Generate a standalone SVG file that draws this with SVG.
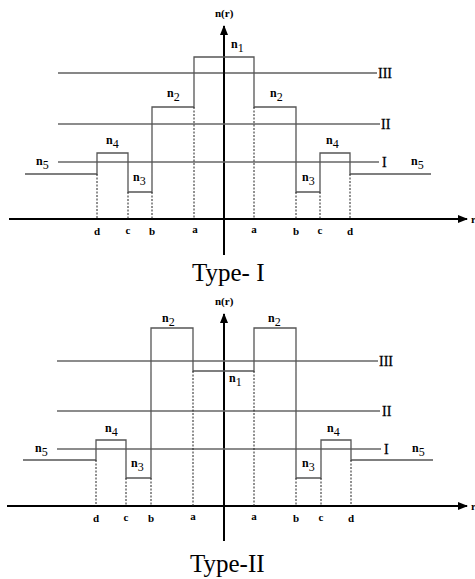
<svg xmlns="http://www.w3.org/2000/svg" width="475" height="579" viewBox="0 0 475 579">
<defs>
<style>
.axis{stroke:#000;stroke-width:2;fill:none}
.step{stroke:#555;stroke-width:1.3;fill:none}
.ref{stroke:#666;stroke-width:1.3;fill:none}
.refd{stroke:#111;stroke-width:1.2;fill:none}
.dash{stroke:#222;stroke-width:1;stroke-dasharray:2,1.5;fill:none}
.lbl{font-family:"Liberation Serif",serif;font-weight:bold;font-size:12px;fill:#000}
.sub{font-family:"Liberation Serif",serif;font-weight:normal;font-size:12px;fill:#000}
.ax{font-family:"Liberation Serif",serif;font-weight:bold;font-size:11px;fill:#000}
.rom{font-family:"Liberation Serif",serif;font-size:14px;fill:#000;stroke:#000;stroke-width:0.3}
.ttl{font-family:"Liberation Serif",serif;font-size:25px;fill:#000}
</style>
<marker id="ah" viewBox="0 0 10 10" refX="9" refY="5" markerWidth="5" markerHeight="5" orient="auto" markerUnits="strokeWidth">
<path d="M0,1 L10,5 L0,9 z" fill="#000"/>
</marker>
</defs>
<rect width="475" height="579" fill="#fff"/>

<!-- Top panel: Type I -->
<g id="typeI">
<g id="axes1">
<line class="axis" x1="9" y1="219" x2="467" y2="219" marker-end="url(#ah)"/>
<line class="axis" x1="224" y1="255" x2="224" y2="26" marker-end="url(#ah)"/>
<text class="ax" x="215" y="17">n(r)</text>
<text class="ax" x="471" y="223">r</text>
</g>
<g id="refs1">
<line class="refd" x1="58" y1="73" x2="377" y2="73"/>
<line class="ref" x1="58" y1="124" x2="380" y2="124"/>
<line class="ref" x1="58" y1="162" x2="379" y2="162"/>
<text class="rom" x="378" y="78">III</text>
<text class="rom" x="381" y="129">II</text>
<text class="rom" x="382" y="167">I</text>
</g>
<g id="profile1">
<polyline class="step" points="25,174 97,174 97,153 128,153 128,192 152,192 152,107 194,107 194,57 254,57 254,107 296,107 296,192 320,192 320,153 350,153 350,174 431,174"/>
<line class="dash" x1="97" y1="174" x2="97" y2="219"/>
<line class="dash" x1="128" y1="192" x2="128" y2="219"/>
<line class="dash" x1="152" y1="192" x2="152" y2="219"/>
<line class="dash" x1="194" y1="107" x2="194" y2="219"/>
<line class="dash" x1="254" y1="107" x2="254" y2="219"/>
<line class="dash" x1="296" y1="192" x2="296" y2="219"/>
<line class="dash" x1="320" y1="192" x2="320" y2="219"/>
<line class="dash" x1="350" y1="174" x2="350" y2="219"/>
</g>
<g id="labels1">
<text class="lbl" x="36" y="165">n<tspan class="sub" dy="4">5</tspan></text>
<text class="lbl" x="106" y="144">n<tspan class="sub" dy="4">4</tspan></text>
<text class="lbl" x="133" y="181">n<tspan class="sub" dy="4">3</tspan></text>
<text class="lbl" x="167" y="97">n<tspan class="sub" dy="4">2</tspan></text>
<text class="lbl" x="231" y="48">n<tspan class="sub" dy="4">1</tspan></text>
<text class="lbl" x="270" y="97">n<tspan class="sub" dy="4">2</tspan></text>
<text class="lbl" x="302" y="181">n<tspan class="sub" dy="4">3</tspan></text>
<text class="lbl" x="326" y="144">n<tspan class="sub" dy="4">4</tspan></text>
<text class="lbl" x="411" y="165">n<tspan class="sub" dy="4">5</tspan></text>
<text class="ax" x="97" y="235" text-anchor="middle">d</text>
<text class="ax" x="128" y="234" text-anchor="middle" font-size="10">c</text>
<text class="ax" x="152" y="235" text-anchor="middle">b</text>
<text class="ax" x="195" y="233" text-anchor="middle" font-size="10">a</text>
<text class="ax" x="254" y="233" text-anchor="middle" font-size="10">a</text>
<text class="ax" x="296" y="235" text-anchor="middle">b</text>
<text class="ax" x="320" y="234" text-anchor="middle" font-size="10">c</text>
<text class="ax" x="350" y="235" text-anchor="middle">d</text>
<text class="ttl" x="192" y="281">Type- I</text>
</g>
</g>

<!-- Bottom panel: Type II -->
<g id="typeII">
<g id="axes2">
<line class="axis" x1="7" y1="506" x2="467" y2="506" marker-end="url(#ah)"/>
<line class="axis" x1="224" y1="541" x2="224" y2="314" marker-end="url(#ah)"/>
<text class="ax" x="215" y="305">n(r)</text>
<text class="ax" x="471" y="510">r</text>
</g>
<g id="refs2">
<line class="ref" x1="57" y1="361" x2="378" y2="361"/>
<line class="ref" x1="57" y1="411" x2="380" y2="411"/>
<line class="ref" x1="57" y1="449" x2="381" y2="449"/>
<text class="rom" x="379" y="366">III</text>
<text class="rom" x="382" y="416">II</text>
<text class="rom" x="384" y="454">I</text>
</g>
<g id="profile2">
<polyline class="step" points="23,460 96,460 96,440 126,440 126,478 151,478 151,328 193,328 193,371 254,371 254,328 296,328 296,478 321,478 321,440 351,440 351,460 433,460"/>
<line class="dash" x1="96" y1="460" x2="96" y2="506"/>
<line class="dash" x1="126" y1="478" x2="126" y2="506"/>
<line class="dash" x1="151" y1="478" x2="151" y2="506"/>
<line class="dash" x1="193" y1="371" x2="193" y2="506"/>
<line class="dash" x1="254" y1="371" x2="254" y2="506"/>
<line class="dash" x1="296" y1="478" x2="296" y2="506"/>
<line class="dash" x1="321" y1="478" x2="321" y2="506"/>
<line class="dash" x1="351" y1="460" x2="351" y2="506"/>
</g>
<g id="labels2">
<text class="lbl" x="35" y="452">n<tspan class="sub" dy="4">5</tspan></text>
<text class="lbl" x="105" y="432">n<tspan class="sub" dy="4">4</tspan></text>
<text class="lbl" x="131" y="467">n<tspan class="sub" dy="4">3</tspan></text>
<text class="lbl" x="162" y="322">n<tspan class="sub" dy="4">2</tspan></text>
<text class="lbl" x="229" y="382">n<tspan class="sub" dy="4">1</tspan></text>
<text class="lbl" x="268" y="322">n<tspan class="sub" dy="4">2</tspan></text>
<text class="lbl" x="302" y="467">n<tspan class="sub" dy="4">3</tspan></text>
<text class="lbl" x="327" y="432">n<tspan class="sub" dy="4">4</tspan></text>
<text class="lbl" x="412" y="452">n<tspan class="sub" dy="4">5</tspan></text>
<text class="ax" x="96" y="522" text-anchor="middle">d</text>
<text class="ax" x="126" y="521" text-anchor="middle" font-size="10">c</text>
<text class="ax" x="151" y="522" text-anchor="middle">b</text>
<text class="ax" x="193" y="520" text-anchor="middle" font-size="10">a</text>
<text class="ax" x="254" y="520" text-anchor="middle" font-size="10">a</text>
<text class="ax" x="296" y="522" text-anchor="middle">b</text>
<text class="ax" x="321" y="521" text-anchor="middle" font-size="10">c</text>
<text class="ax" x="351" y="522" text-anchor="middle">d</text>
<text class="ttl" x="190" y="572">Type-II</text>
</g>
</g>
</svg>
